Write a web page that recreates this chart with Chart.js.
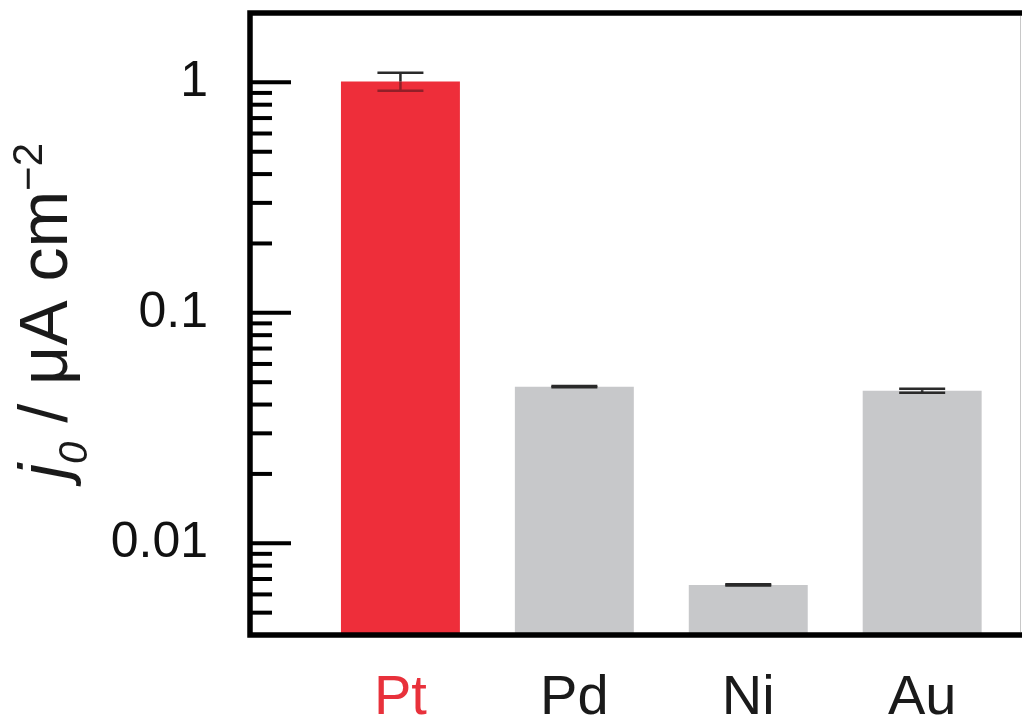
<!DOCTYPE html>
<html><head><meta charset="utf-8">
<script src="https://cdn.jsdelivr.net/npm/chart.js@4.4.1/dist/chart.umd.min.js"></script>
<style>html,body{margin:0;padding:0;background:#fff;}canvas{display:block;}</style>
</head><body>
<canvas id="c" width="1022" height="721"></canvas>
<script>
const categories = ['Pt', 'Pd', 'Ni', 'Au'];
const values = [1.01, 0.0478, 0.0066, 0.0459];
const errors = [0.09, 0.0003, 0.00004, 0.0009];
const yTickLabels = [1, 0.1, 0.01];
const barColors = ['#ee2e3a', '#c7c8ca', '#c7c8ca', '#c7c8ca'];
const labelColors = ['#e8313b', '#1a1a1a', '#1a1a1a', '#1a1a1a'];
const Y_MIN = 0.004, Y_MAX = 2;
const X_MIN = -0.865, X_MAX = 3.574;

const FONT = "'Liberation Sans', Arial, sans-serif";

const customDraw = {
  id: 'customDraw',
  beforeDraw(chart) {
    const {ctx} = chart;
    ctx.save();
    ctx.fillStyle = '#fff';
    ctx.fillRect(0, 0, chart.width, chart.height);
    ctx.restore();
  },
  afterDatasetsDraw(chart) {
    const {ctx, chartArea: a, scales: {x, y}} = chart;
    ctx.save();
    // error bars
    values.forEach((v, i) => {
      const px = x.getPixelForValue(i);
      const top = y.getPixelForValue(v + errors[i]);
      const mid = y.getPixelForValue(v);
      const bot = y.getPixelForValue(v - errors[i]);
      ctx.lineWidth = 2.5;
      ctx.strokeStyle = '#2a2a2a';
      ctx.beginPath();
      ctx.moveTo(px, top); ctx.lineTo(px, mid);
      ctx.moveTo(px - 23, top); ctx.lineTo(px + 23, top);
      ctx.stroke();
      ctx.strokeStyle = (i === 0) ? 'rgba(70,20,25,0.55)' : '#2a2a2a';
      ctx.beginPath();
      ctx.moveTo(px, mid); ctx.lineTo(px, bot);
      ctx.moveTo(px - 23, bot); ctx.lineTo(px + 23, bot);
      ctx.stroke();
    });
    // inward ticks on the left axis (decade multiples only)
    ctx.strokeStyle = '#000';
    ctx.lineWidth = 4;
    y.ticks.forEach(t => {
      const lg = Math.log10(t.value);
      const dec = Math.pow(10, Math.floor(lg + 1e-9));
      const mant = t.value / dec;
      if (Math.abs(mant - Math.round(mant)) > 1e-6) return;
      const py = y.getPixelForValue(t.value);
      const major = Math.abs(lg - Math.round(lg)) < 1e-6;
      ctx.beginPath();
      ctx.moveTo(a.left, py);
      ctx.lineTo(a.left + (major ? 41 : 22), py);
      ctx.stroke();
    });
    // frame: left, top, bottom
    ctx.lineWidth = 5.5;
    ctx.strokeStyle = '#000';
    ctx.beginPath();
    ctx.moveTo(chart.width, a.top);
    ctx.lineTo(a.left, a.top);
    ctx.lineTo(a.left, a.bottom);
    ctx.lineTo(chart.width, a.bottom);
    ctx.stroke();
    // faint right edge
    ctx.lineWidth = 1;
    ctx.strokeStyle = '#c8c8c8';
    ctx.beginPath();
    ctx.moveTo(1020.5, a.top + 3);
    ctx.lineTo(1020.5, a.bottom - 3);
    ctx.stroke();
    // y-axis title: j0 / μA cm−2
    const F = 68;
    const pieces = [
      {t: 'j', f: `italic ${F}px ${FONT}`, dy: 0},
      {t: '0', f: `italic 40px ${FONT}`, dy: 20},
      {t: ' / μA cm', f: `${F}px ${FONT}`, dy: 0},
      {t: '\u22122', f: `42px ${FONT}`, dy: -25}
    ];
    let total = 0;
    pieces.forEach(p => { ctx.font = p.f; p.w = ctx.measureText(p.t).width; total += p.w; });
    ctx.translate(67, 311);
    ctx.rotate(-Math.PI / 2);
    ctx.fillStyle = '#1a1a1a';
    ctx.textBaseline = 'alphabetic';
    ctx.textAlign = 'left';
    let cx = -total / 2;
    pieces.forEach(p => { ctx.font = p.f; ctx.fillText(p.t, cx, p.dy); cx += p.w; });
    ctx.restore();
  }
};

new Chart(document.getElementById('c'), {
  type: 'bar',
  data: {
    datasets: [{
      data: categories.map((c, i) => ({x: i, y: values[i]})),
      backgroundColor: barColors,
      borderWidth: 0,
      barPercentage: 0.684,
      categoryPercentage: 1
    }]
  },
  options: {
    responsive: false,
    devicePixelRatio: 1,
    animation: false,
    layout: {padding: {top: 13, right: 0, left: 0, bottom: 0}},
    plugins: {legend: {display: false}, tooltip: {enabled: false}, title: {display: false}},
    scales: {
      x: {
        type: 'linear',
        min: X_MIN, max: X_MAX,
        offset: false,
        grid: {display: false, drawTicks: false},
        border: {display: false},
        afterBuildTicks: s => { s.ticks = categories.map((c, i) => ({value: i})); },
        afterFit: s => { s.height = 86; s.paddingLeft = 0; s.paddingRight = 0; },
        ticks: {
          autoSkip: false,
          maxRotation: 0,
          padding: 30,
          font: {family: FONT, size: 56},
          color: c => labelColors[c.index] || '#1a1a1a',
          callback: v => categories[v]
        }
      },
      y: {
        type: 'logarithmic',
        min: Y_MIN, max: Y_MAX,
        grid: {display: false, drawTicks: false},
        border: {display: false},
        afterFit: s => { s.width = 250; s.paddingTop = 0; s.paddingBottom = 0; },
        ticks: {
          autoSkip: false,
          padding: 42,
          font: {family: FONT, size: 50},
          color: '#111',
          major: {enabled: false},
          callback: v => {
            const m = yTickLabels.find(t => Math.abs(t - v) / t < 1e-6);
            return m !== undefined ? String(m) : '';
          }
        }
      }
    }
  },
  plugins: [customDraw]
});
</script>
</body></html>
